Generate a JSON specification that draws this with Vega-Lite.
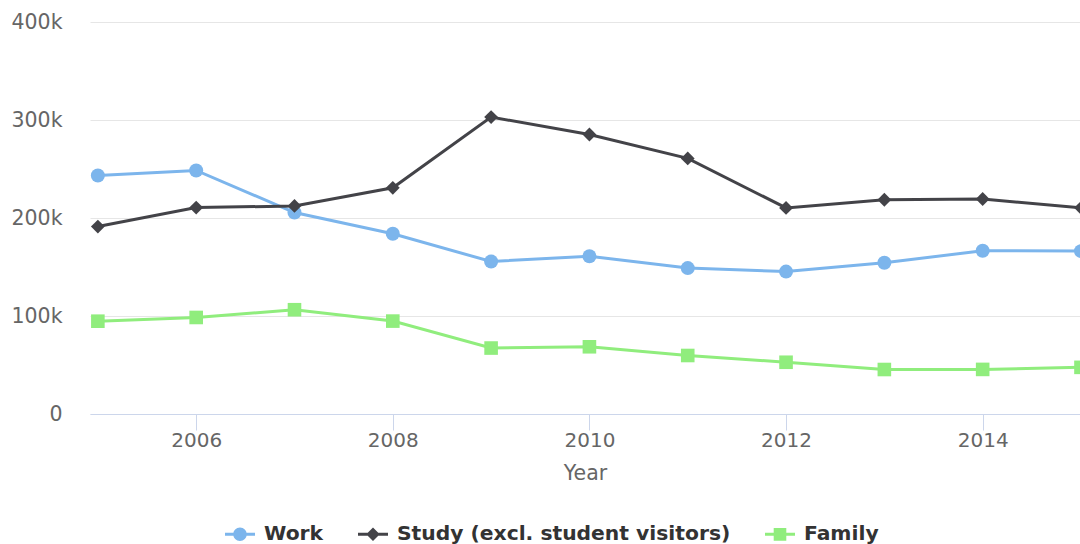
{
  "$schema": "https://vega.github.io/schema/vega-lite/v6.json",
  "width": 990,
  "height": 392,
  "autosize": "none",
  "padding": {"left": 90, "top": 22, "right": 0, "bottom": 130},
  "background": "white",
  "config": {"font": "DejaVu Sans", "view": {"stroke": null}},
  "data": {"values": [
    {"year": 2005, "series": "Work", "value": 243400},
    {"year": 2006, "series": "Work", "value": 248500},
    {"year": 2007, "series": "Work", "value": 205600},
    {"year": 2008, "series": "Work", "value": 183900},
    {"year": 2009, "series": "Work", "value": 155600},
    {"year": 2010, "series": "Work", "value": 161000},
    {"year": 2011, "series": "Work", "value": 148900},
    {"year": 2012, "series": "Work", "value": 145300},
    {"year": 2013, "series": "Work", "value": 154300},
    {"year": 2014, "series": "Work", "value": 166600},
    {"year": 2015, "series": "Work", "value": 166200},
    {"year": 2005, "series": "Study (excl. student visitors)", "value": 191300},
    {"year": 2006, "series": "Study (excl. student visitors)", "value": 210600},
    {"year": 2007, "series": "Study (excl. student visitors)", "value": 212300},
    {"year": 2008, "series": "Study (excl. student visitors)", "value": 230800},
    {"year": 2009, "series": "Study (excl. student visitors)", "value": 303000},
    {"year": 2010, "series": "Study (excl. student visitors)", "value": 285200},
    {"year": 2011, "series": "Study (excl. student visitors)", "value": 260800},
    {"year": 2012, "series": "Study (excl. student visitors)", "value": 210300},
    {"year": 2013, "series": "Study (excl. student visitors)", "value": 218600},
    {"year": 2014, "series": "Study (excl. student visitors)", "value": 219400},
    {"year": 2015, "series": "Study (excl. student visitors)", "value": 210400},
    {"year": 2005, "series": "Family", "value": 94700},
    {"year": 2006, "series": "Family", "value": 98500},
    {"year": 2007, "series": "Family", "value": 106400},
    {"year": 2008, "series": "Family", "value": 94800},
    {"year": 2009, "series": "Family", "value": 67300},
    {"year": 2010, "series": "Family", "value": 68600},
    {"year": 2011, "series": "Family", "value": 59700},
    {"year": 2012, "series": "Family", "value": 52800},
    {"year": 2013, "series": "Family", "value": 45400},
    {"year": 2014, "series": "Family", "value": 45500},
    {"year": 2015, "series": "Family", "value": 47600}
  ]},
  "encoding": {
    "x": {
      "field": "year", "type": "quantitative",
      "scale": {"domain": [2004.92, 2014.99], "nice": false, "zero": false},
      "axis": {
        "title": "Year", "values": [2006, 2008, 2010, 2012, 2014], "format": "d",
        "grid": false, "domainColor": "#ccd6eb", "domainWidth": 1,
        "tickColor": "#ccd6eb", "tickSize": 16, "tickWidth": 1,
        "labelColor": "#666666", "labelFontSize": 20, "labelPadding": 0,
        "titleColor": "#666666", "titleFontSize": 20.5, "titleFontWeight": "normal",
        "titlePadding": 13
      }
    },
    "y": {
      "field": "value", "type": "quantitative",
      "scale": {"domain": [0, 400000], "nice": false},
      "axis": {
        "title": null, "values": [0, 100000, 200000, 300000, 400000],
        "labelExpr": "datum.value === 0 ? '0' : format(datum.value / 1000, 'd') + 'k'",
        "domain": false, "ticks": false, "grid": true, "gridColor": "#e6e6e6", "gridWidth": 1,
        "labelColor": "#666666", "labelFontSize": 20.5, "labelPadding": 28
      }
    }
  },
  "resolve": {"scale": {"color": "independent", "shape": "independent", "size": "independent"}},
  "layer": [
    {
      "mark": {"type": "line", "strokeWidth": 3, "clip": true},
      "encoding": {
        "color": {
          "field": "series", "type": "nominal",
          "scale": {"domain": ["Work", "Study (excl. student visitors)", "Family"], "range": ["#7cb5ec", "#434348", "#90ed7d"]},
          "legend": null
        }
      }
    },
    {
      "mark": {"type": "point", "filled": true, "opacity": 1, "clip": true},
      "encoding": {
        "color": {
          "field": "series", "type": "nominal",
          "scale": {"domain": ["Work", "Study (excl. student visitors)", "Family"], "range": ["#7cb5ec", "#434348", "#90ed7d"]},
          "legend": null
        },
        "shape": {
          "field": "series", "type": "nominal",
          "scale": {"domain": ["Work", "Study (excl. student visitors)", "Family"], "range": ["circle", "diamond", "square"]},
          "legend": null
        },
        "size": {
          "field": "series", "type": "nominal",
          "scale": {"domain": ["Work", "Study (excl. student visitors)", "Family"], "range": [196, 185, 196]},
          "legend": null
        }
      }
    },
    {
      "mark": {"type": "point", "filled": true, "opacity": 0, "size": 900, "strokeWidth": 0},
      "encoding": {
        "color": {
          "field": "series", "type": "nominal",
          "scale": {"domain": ["Work", "Study (excl. student visitors)", "Family"], "range": ["#7cb5ec", "#434348", "#90ed7d"]},
          "legend": {
            "title": null, "orient": "none", "direction": "horizontal",
            "legendX": 135, "legendY": 497,
            "labelFontSize": 20.3, "labelFontWeight": "bold", "labelColor": "#333333",
            "labelLimit": 0, "labelOffset": 9, "columnPadding": 34,
            "symbolSize": 900, "symbolStrokeWidth": 0, "symbolOpacity": 1
          }
        },
        "shape": {
          "field": "series", "type": "nominal",
          "scale": {
            "domain": ["Work", "Study (excl. student visitors)", "Family"],
            "range": [
              "M-1,-0.1H1V0.1H-1Z M-0.45,0A0.45,0.45 0 1,1 0.45,0A0.45,0.45 0 1,1 -0.45,0Z",
              "M-1,-0.1H1V0.1H-1Z M-0.45,0L0,-0.45L0.45,0L0,0.45Z",
              "M-1,-0.1H1V0.1H-1Z M-0.42,-0.42H0.42V0.42H-0.42Z"
            ]
          },
          "legend": {
            "title": null, "orient": "none", "direction": "horizontal",
            "legendX": 135, "legendY": 497,
            "labelFontSize": 20.3, "labelFontWeight": "bold", "labelColor": "#333333",
            "labelLimit": 0, "labelOffset": 9, "columnPadding": 34,
            "symbolSize": 900, "symbolStrokeWidth": 0, "symbolOpacity": 1
          }
        }
      }
    }
  ]
}
